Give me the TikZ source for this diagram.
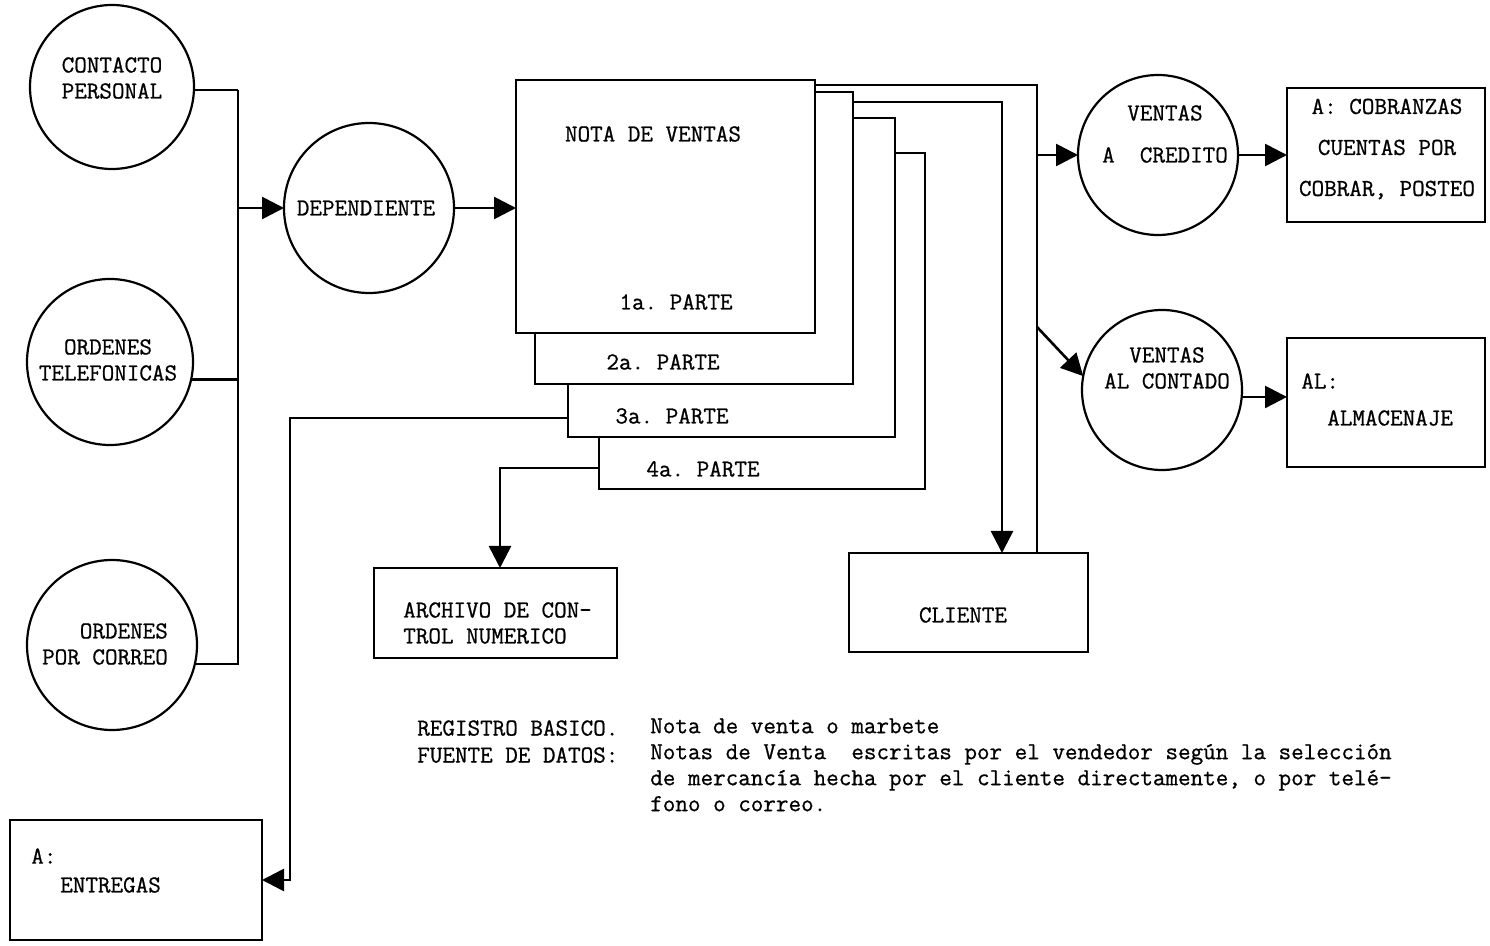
\documentclass[tikz,border=0pt]{standalone}
\usepackage{fontspec}
\setmonofont[FakeBold=0.8,AutoFakeBold=0.8]{Latin Modern Mono}
\usetikzlibrary{arrows.meta,calc}
\begin{document}
\begin{tikzpicture}[x=0.5pt,y=-0.5pt,
  line width=1.3pt,
  every node/.style={font=\ttfamily\fontsize{12.2}{13}\selectfont\bfseries},
  circ/.style={draw,circle,inner sep=0pt,outer sep=0pt,minimum size=#1,line width=1.1pt},
  box/.style 2 args={draw,rectangle,fill=white,inner sep=0pt,outer sep=0pt,minimum width=#1,minimum height=#2},
  txt/.style={inner sep=0pt,align=center},
  arr/.style={-{Triangle[length=11pt,width=11pt]}}
]
\useasboundingbox (0,0) rectangle (1490,946);

% left circles
\node[circ=82pt] (cp) at (112,87) {};
\node[circ=83pt] (ot) at (110,362) {};
\node[circ=85pt] (oc) at (112,645) {};
\node[txt] (tcp) at (112,78) {CONTACTO\\PERSONAL};
\node[txt] (tot) at (108,360) {ORDENES\\TELEFONICAS};
\node[txt,align=right] (toc) at (105,644) {ORDENES\\POR CORREO};

% dependiente
\node[circ=85pt] (dep) at (369,208) {};
\node[txt] (tdep) at (366,208) {DEPENDIENTE};

% nota de ventas parts (back to front)
\node[box={163pt}{168pt}] (p4) at (762,321) {};
\node[box={163.5pt}{159.5pt}] (p3) at (731.5,277.5) {};
\node[box={159pt}{146pt}] (p2) at (694,238) {};
\node[box={149.5pt}{126.5pt}] (p1) at (665.5,206.5) {};
\node[txt] (tnv) at (653,134) {NOTA DE VENTAS};
\node[txt] (t1) at (676,302) {1a. PARTE};
\node[txt] (t2) at (663,362) {2a. PARTE};
\node[txt] (t3) at (672,416) {3a. PARTE};
\node[txt] (t4) at (703,469) {4a. PARTE};

% right circles and boxes
\node[circ=80pt] (vc) at (1158,155) {};
\node[txt] (tvc) at (1165,134) {VENTAS\\[8pt]A\ \ CREDITO};
\node[circ=80pt] (vac) at (1162,390) {};
\node[txt] (tvac) at (1167,368) {VENTAS\\AL CONTADO};
\node[box={99pt}{67pt}] (cob) at (1386,155) {};
\node[txt] (tcob) at (1387,149) {A: COBRANZAS\\[7.5pt]CUENTAS POR\\[7.5pt]COBRAR, POSTEO};
\node[box={99pt}{64.5pt}] (alm) at (1386,402.5) {};
\node[txt,anchor=west] (talm1) at (1300,381) {AL:};
\node[txt,anchor=west] (talm2) at (1326,418) {ALMACENAJE};

% bottom boxes
\node[box={121.5pt}{45pt}] (arch) at (495.5,613) {};
\node[txt,anchor=west,align=left] (tarch) at (402,623) {ARCHIVO DE CON-\\TROL NUMERICO};
\node[box={119.5pt}{49.5pt}] (cli) at (968.5,602.5) {};
\node[txt] (tcli) at (963,615) {CLIENTE};
\node[box={126pt}{60pt}] (ent) at (136,880) {};
\node[txt,anchor=west] (tent1) at (30,856) {A:};
\node[txt,anchor=west] (tent2) at (59,885) {ENTREGAS};

% bus on the left
\coordinate (bt) at (238,90);
\coordinate (bb) at (238,665);
\draw (cp.-2) -- (cp.-2 -| bt);
\draw (ot.-12.5) -- (ot.-12.5 -| bt);
\draw (oc.-13.6) -- (oc.-13.6 -| bt);
\draw (bt) -- (bb);
\draw[arr] (bt |- dep.west) -- (dep.west);
\draw[arr] (dep.east) -- (dep.east -| p1.west);

% connectors from the parts
\coordinate (c1) at (1037,85);
\coordinate (c2) at (1002,102);
\coordinate (c3) at (290,418);
\coordinate (c4) at (500,468);
\coordinate (c5) at (1037,327);
\draw (p1.east |- c1) -- (c1) -- (c1 |- cli.north);
\draw[arr] (c1 |- vc.west) -- (vc.west);
\draw[arr] (c5) -- (vac.170);
\draw[arr] (p2.east |- c2) -- (c2) -- (c2 |- cli.north);
\draw[arr] (p3.west |- c3) -- (c3) |- (ent.east);
\draw[arr] (p4.west |- c4) -- (c4) -- (c4 |- arch.north);
\draw[arr] (vc.east) -- (cob.west);
\draw[arr] (vac.-5) -- (vac.-5 -| alm.west);

% text block
\node[anchor=north west,align=left,inner sep=0pt,font=\ttfamily\fontsize{12.2}{13.5}\selectfont\bfseries] (reg) at (416,719) {REGISTRO BASICO.\\FUENTE DE DATOS:};
\node[anchor=north west,align=left,inner sep=0pt,font=\ttfamily\fontsize{12.2}{13}\selectfont\bfseries] (src) at (649,717) {Nota de venta o marbete\\Notas de Venta\ \ escritas por el vendedor según la selección\\de mercancía hecha por el cliente directamente, o por telé-\\fono o correo.};
\end{tikzpicture}
\end{document}
